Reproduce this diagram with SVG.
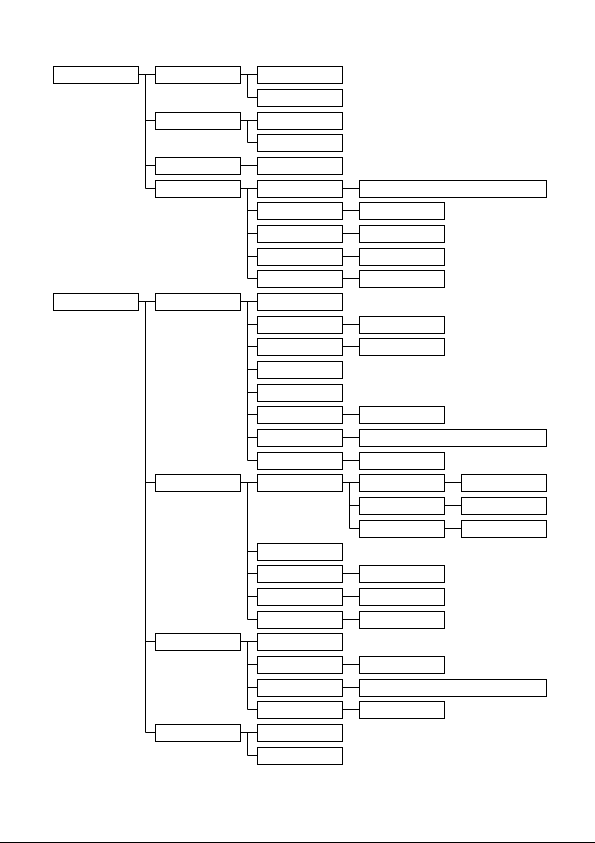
<svg xmlns="http://www.w3.org/2000/svg" width="595" height="843" viewBox="0 0 595 843">
<style>
.n{fill:#fff;stroke:#000;stroke-width:1}
.c{fill:none;stroke:#000;stroke-width:1}
</style>
<rect x="0" y="0" width="595" height="843" fill="#fff"/>
<g id="connectors" class="c">
<path d="M138.5 74.5H155.5M145.5 74.5V188.5M145.5 120.5H155.5M145.5 165.5H155.5M145.5 188.5H155.5"/>
<path d="M240.5 74.5H257.5M247.5 74.5V97.5H257.5"/>
<path d="M240.5 120.5H257.5M247.5 120.5V142.5H257.5"/>
<path d="M240.5 165.5H257.5"/>
<path d="M240.5 188.5H257.5M247.5 188.5V278.5M247.5 210.5H257.5M247.5 233.5H257.5M247.5 256.5H257.5M247.5 278.5H257.5"/>
<path d="M342.5 188.5H359.5M342.5 210.5H359.5M342.5 233.5H359.5M342.5 256.5H359.5M342.5 278.5H359.5"/>
<path d="M138.5 301.5H155.5M145.5 301.5V732.5M145.5 482.5H155.5M145.5 641.5H155.5M145.5 732.5H155.5"/>
<path d="M240.5 301.5H257.5M247.5 301.5V460.5M247.5 324.5H257.5M247.5 346.5H257.5M247.5 369.5H257.5M247.5 392.5H257.5M247.5 414.5H257.5M247.5 437.5H257.5M247.5 460.5H257.5"/>
<path d="M342.5 324.5H359.5M342.5 346.5H359.5M342.5 414.5H359.5M342.5 437.5H359.5M342.5 460.5H359.5"/>
<path d="M240.5 482.5H257.5M247.5 482.5V619.5M247.5 551.5H257.5M247.5 573.5H257.5M247.5 596.5H257.5M247.5 619.5H257.5"/>
<path d="M342.5 482.5H359.5M349.5 482.5V528.5M349.5 505.5H359.5M349.5 528.5H359.5"/>
<path d="M444.5 482.5H461.5M444.5 505.5H461.5M444.5 528.5H461.5"/>
<path d="M342.5 573.5H359.5M342.5 596.5H359.5M342.5 619.5H359.5"/>
<path d="M240.5 641.5H257.5M247.5 641.5V709.5M247.5 664.5H257.5M247.5 687.5H257.5M247.5 709.5H257.5"/>
<path d="M342.5 664.5H359.5M342.5 687.5H359.5M342.5 709.5H359.5"/>
<path d="M240.5 732.5H257.5M247.5 732.5V755.5H257.5"/>
</g>
<g id="root1"><rect class="n" x="53.5" y="66.5" width="85" height="17"/></g>
<g id="root2"><rect class="n" x="53.5" y="293.5" width="85" height="17"/></g>
<g id="l2-0"><rect class="n" x="155.5" y="66.5" width="85" height="17"/></g>
<g id="l2-2"><rect class="n" x="155.5" y="112.5" width="85" height="17"/></g>
<g id="l2-4"><rect class="n" x="155.5" y="157.5" width="85" height="17"/></g>
<g id="l2-5"><rect class="n" x="155.5" y="180.5" width="85" height="17"/></g>
<g id="l2-10"><rect class="n" x="155.5" y="293.5" width="85" height="17"/></g>
<g id="l2-18"><rect class="n" x="155.5" y="474.5" width="85" height="17"/></g>
<g id="l2-25"><rect class="n" x="155.5" y="633.5" width="85" height="17"/></g>
<g id="l2-29"><rect class="n" x="155.5" y="724.5" width="85" height="17"/></g>
<g id="l3-0"><rect class="n" x="257.5" y="66.5" width="85" height="17"/></g>
<g id="l3-1"><rect class="n" x="257.5" y="89.5" width="85" height="17"/></g>
<g id="l3-2"><rect class="n" x="257.5" y="112.5" width="85" height="17"/></g>
<g id="l3-3"><rect class="n" x="257.5" y="134.5" width="85" height="17"/></g>
<g id="l3-4"><rect class="n" x="257.5" y="157.5" width="85" height="17"/></g>
<g id="l3-5"><rect class="n" x="257.5" y="180.5" width="85" height="17"/></g>
<g id="l3-6"><rect class="n" x="257.5" y="202.5" width="85" height="17"/></g>
<g id="l3-7"><rect class="n" x="257.5" y="225.5" width="85" height="17"/></g>
<g id="l3-8"><rect class="n" x="257.5" y="248.5" width="85" height="17"/></g>
<g id="l3-9"><rect class="n" x="257.5" y="270.5" width="85" height="17"/></g>
<g id="l3-10"><rect class="n" x="257.5" y="293.5" width="85" height="17"/></g>
<g id="l3-11"><rect class="n" x="257.5" y="316.5" width="85" height="17"/></g>
<g id="l3-12"><rect class="n" x="257.5" y="338.5" width="85" height="17"/></g>
<g id="l3-13"><rect class="n" x="257.5" y="361.5" width="85" height="17"/></g>
<g id="l3-14"><rect class="n" x="257.5" y="384.5" width="85" height="17"/></g>
<g id="l3-15"><rect class="n" x="257.5" y="406.5" width="85" height="17"/></g>
<g id="l3-16"><rect class="n" x="257.5" y="429.5" width="85" height="17"/></g>
<g id="l3-17"><rect class="n" x="257.5" y="452.5" width="85" height="17"/></g>
<g id="l3-18"><rect class="n" x="257.5" y="474.5" width="85" height="17"/></g>
<g id="l3-21"><rect class="n" x="257.5" y="543.5" width="85" height="17"/></g>
<g id="l3-22"><rect class="n" x="257.5" y="565.5" width="85" height="17"/></g>
<g id="l3-23"><rect class="n" x="257.5" y="588.5" width="85" height="17"/></g>
<g id="l3-24"><rect class="n" x="257.5" y="611.5" width="85" height="17"/></g>
<g id="l3-25"><rect class="n" x="257.5" y="633.5" width="85" height="17"/></g>
<g id="l3-26"><rect class="n" x="257.5" y="656.5" width="85" height="17"/></g>
<g id="l3-27"><rect class="n" x="257.5" y="679.5" width="85" height="17"/></g>
<g id="l3-28"><rect class="n" x="257.5" y="701.5" width="85" height="17"/></g>
<g id="l3-29"><rect class="n" x="257.5" y="724.5" width="85" height="17"/></g>
<g id="l3-30"><rect class="n" x="257.5" y="747.5" width="85" height="17"/></g>
<g id="l4-5"><rect class="n" x="359.5" y="180.5" width="187" height="17"/></g>
<g id="l4-6"><rect class="n" x="359.5" y="202.5" width="85" height="17"/></g>
<g id="l4-7"><rect class="n" x="359.5" y="225.5" width="85" height="17"/></g>
<g id="l4-8"><rect class="n" x="359.5" y="248.5" width="85" height="17"/></g>
<g id="l4-9"><rect class="n" x="359.5" y="270.5" width="85" height="17"/></g>
<g id="l4-11"><rect class="n" x="359.5" y="316.5" width="85" height="17"/></g>
<g id="l4-12"><rect class="n" x="359.5" y="338.5" width="85" height="17"/></g>
<g id="l4-15"><rect class="n" x="359.5" y="406.5" width="85" height="17"/></g>
<g id="l4-16"><rect class="n" x="359.5" y="429.5" width="187" height="17"/></g>
<g id="l4-17"><rect class="n" x="359.5" y="452.5" width="85" height="17"/></g>
<g id="l4-18"><rect class="n" x="359.5" y="474.5" width="85" height="17"/></g>
<g id="l4-19"><rect class="n" x="359.5" y="497.5" width="85" height="17"/></g>
<g id="l4-20"><rect class="n" x="359.5" y="520.5" width="85" height="17"/></g>
<g id="l4-22"><rect class="n" x="359.5" y="565.5" width="85" height="17"/></g>
<g id="l4-23"><rect class="n" x="359.5" y="588.5" width="85" height="17"/></g>
<g id="l4-24"><rect class="n" x="359.5" y="611.5" width="85" height="17"/></g>
<g id="l4-26"><rect class="n" x="359.5" y="656.5" width="85" height="17"/></g>
<g id="l4-27"><rect class="n" x="359.5" y="679.5" width="187" height="17"/></g>
<g id="l4-28"><rect class="n" x="359.5" y="701.5" width="85" height="17"/></g>
<g id="l5-18"><rect class="n" x="461.5" y="474.5" width="85" height="17"/></g>
<g id="l5-19"><rect class="n" x="461.5" y="497.5" width="85" height="17"/></g>
<g id="l5-20"><rect class="n" x="461.5" y="520.5" width="85" height="17"/></g>
<line x1="0" y1="842.5" x2="595" y2="842.5" stroke="#000" stroke-width="1"/>
</svg>
